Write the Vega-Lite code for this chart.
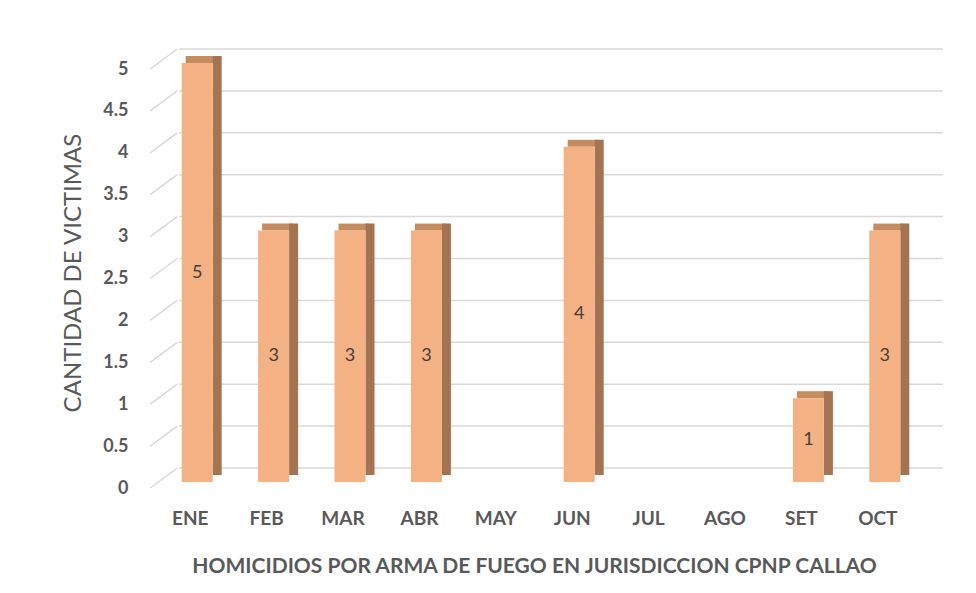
{
  "$schema": "https://vega.github.io/schema/vega-lite/v6.json",
  "autosize": {"type": "none"},
  "padding": {"left": 152, "top": 63, "right": 60, "bottom": 111},
  "width": 764,
  "height": 419,
  "background": "white",
  "config": {"view": {"stroke": null}, "font": "Lato"},
  "datasets": {
    "months": [
      {"mes": "ENE", "value": 5},
      {"mes": "FEB", "value": 3},
      {"mes": "MAR", "value": 3},
      {"mes": "ABR", "value": 3},
      {"mes": "MAY", "value": 0},
      {"mes": "JUN", "value": 4},
      {"mes": "JUL", "value": 0},
      {"mes": "AGO", "value": 0},
      {"mes": "SET", "value": 1},
      {"mes": "OCT", "value": 3}
    ],
    "grid": [
      {"v": 0}, {"v": 0.5}, {"v": 1}, {"v": 1.5}, {"v": 2}, {"v": 2.5},
      {"v": 3}, {"v": 3.5}, {"v": 4}, {"v": 4.5}, {"v": 5}
    ]
  },
  "resolve": {"scale": {"y": "independent"}},
  "layer": [
    {
      "data": {"name": "grid"},
      "mark": {"type": "rule", "color": "#D9D9D9", "strokeWidth": 1.5, "xOffset": -11, "x2Offset": 65, "yOffset": -14, "y2Offset": -14},
      "encoding": {
        "x": {"datum": "ENE", "type": "nominal", "scale": {"domain": ["ENE","FEB","MAR","ABR","MAY","JUN","JUL","AGO","SET","OCT"], "paddingInner": 0, "paddingOuter": 0}},
        "x2": {"datum": "OCT"},
        "y": {"field": "v", "type": "quantitative", "scale": {"domain": [0, 5]}, "axis": null},
        "y2": {"field": "v"}
      }
    },
    {
      "data": {"name": "grid"},
      "mark": {"type": "rule", "color": "#D9D9D9", "strokeWidth": 1.5, "xOffset": -40, "x2Offset": -13, "yOffset": 6, "y2Offset": -14},
      "encoding": {
        "x": {"datum": "ENE", "type": "nominal"},
        "x2": {"datum": "ENE"},
        "y": {"field": "v", "type": "quantitative", "scale": {"domain": [0, 5]}, "axis": null},
        "y2": {"field": "v"}
      }
    },
    {
      "data": {"name": "months"},
      "transform": [{"filter": "datum.value > 0"}],
      "mark": {"type": "bar", "color": "#C58C62", "width": 31, "xOffset": 11, "yOffset": -7, "y2Offset": 0},
      "encoding": {
        "x": {"field": "mes", "type": "nominal", "sort": null},
        "y": {"field": "value", "type": "quantitative", "scale": {"domain": [0, 5]}, "axis": null},
        "y2": {"field": "value"}
      }
    },
    {
      "data": {"name": "months"},
      "transform": [{"filter": "datum.value > 0"}],
      "mark": {"type": "bar", "color": "#A47452", "width": 9, "xOffset": 27, "yOffset": -7, "y2Offset": -7},
      "encoding": {
        "x": {"field": "mes", "type": "nominal", "sort": null},
        "y": {"field": "value", "type": "quantitative", "scale": {"domain": [0, 5]}, "axis": null},
        "y2": {"datum": 0}
      }
    },
    {
      "data": {"name": "months"},
      "mark": {"type": "bar", "color": "#F4B183", "width": 31, "xOffset": 7},
      "encoding": {
        "x": {
          "field": "mes", "type": "nominal", "sort": null,
          "axis": {
            "title": "HOMICIDIOS POR ARMA DE FUEGO EN JURISDICCION CPNP CALLAO",
            "labelAngle": 0, "labelAlign": "center", "domain": false, "ticks": false,
            "labelPadding": 36, "labelFontSize": 19, "labelFontWeight": "bold", "labelColor": "#595959",
            "titleFontSize": 21, "titleFontWeight": "bold", "titleColor": "#595959", "titlePadding": 27
          }
        },
        "y": {
          "field": "value", "type": "quantitative", "scale": {"domain": [0, 5]},
          "axis": {
            "title": "CANTIDAD DE VICTIMAS",
            "values": [0, 0.5, 1, 1.5, 2, 2.5, 3, 3.5, 4, 4.5, 5],
            "format": "~g", "grid": false, "domain": false, "ticks": false,
            "labelOffset": 6, "labelPadding": 24,
            "labelFontSize": 18, "labelFontWeight": "bold", "labelColor": "#595959",
            "titleFontSize": 24, "titleFontWeight": "normal", "titleColor": "#595959", "titlePadding": 17
          }
        }
      }
    },
    {
      "data": {"name": "months"},
      "transform": [{"filter": "datum.value > 0"}],
      "mark": {"type": "text", "fontSize": 18, "color": "#404040", "xOffset": 7, "baseline": "middle"},
      "encoding": {
        "x": {"field": "mes", "type": "nominal", "sort": null},
        "y": {"field": "value", "type": "quantitative", "scale": {"domain": [0, 10]}, "axis": null},
        "text": {"field": "value", "type": "quantitative"}
      }
    }
  ]
}
